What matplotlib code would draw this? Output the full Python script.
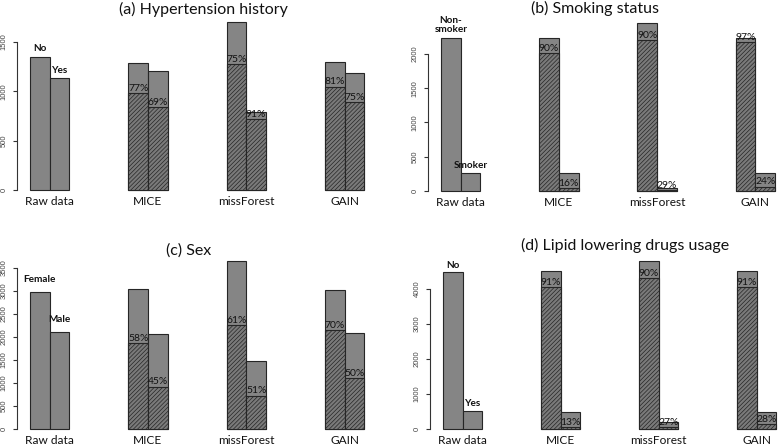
import matplotlib
matplotlib.use("Agg")
import matplotlib.pyplot as plt

plt.rcParams["font.family"] = ["Lato", "DejaVu Sans"]
plt.rcParams["hatch.linewidth"] = 0.5

# ---- data ----
methods = ["Raw data", "MICE", "missForest", "GAIN"]

hyp_levels = ["No", "Yes"]
hyp_total = [[1352, 1133], [1284, 1210], [1700, 788], [1301, 1190]]
hyp_correct = [[980, 838], [1274, 720], [1047, 889]]
hyp_pct = [[77, 69], [75, 91], [81, 75]]

smk_levels = ["Non-\nsmoker", "Smoker"]
smk_total = [[2238, 258], [2238, 268], [2448, 49], [2238, 268]]
smk_correct = [[2010, 43], [2204, 14], [2170, 64]]
smk_pct = [[90, 16], [90, 29], [97, 24]]

sex_levels = ["Female", "Male"]
sex_total = [[2980, 2112], [3032, 2062], [3646, 1476], [3016, 2076]]
sex_correct = [[1860, 919], [2257, 723], [2141, 1100]]
sex_pct = [[58, 45], [61, 51], [70, 50]]

lipid_levels = ["No", "Yes"]
lipid_total = [[4476, 514], [4524, 476], [4810, 190], [4524, 476]]
lipid_correct = [[4048, 62], [4305, 51], [4048, 133]]
lipid_pct = [[91, 13], [90, 27], [91, 28]]

W, H = 778, 447
FILL = "#858585"
EDGE = "#262626"

fig = plt.figure(figsize=(W / 100, H / 100), dpi=100)


def panel(axis_x, y0, ppu, unit_px, yticks, levels, total, correct, pct, lab_off):
    """axis_x / y0 in pixels from the top-left, ppu = pixels per count."""
    ymax = max(max(t) for t in total)
    lo, hi = -0.04 * ymax, 1.04 * ymax
    h_px = (hi - lo) * ppu
    bottom_px = y0 - lo * ppu
    w_px = 18.36 * unit_px
    ax = fig.add_axes([axis_x / W, 1 - bottom_px / H, w_px / W, h_px / H])
    ax.set_xlim(-0.68, 17.68)
    ax.set_ylim(lo, hi)
    ax.patch.set_alpha(0)

    for g, name in enumerate(methods):
        for j in range(2):
            x = g * 5 + j
            ax.bar(x, total[g][j], width=1, align="edge", color=FILL,
                   edgecolor=EDGE, lw=0.8)
            if g == 0:
                ax.annotate(levels[j], (x + 0.5, total[g][j]), xytext=(0, lab_off),
                            textcoords="offset points", ha="center", va="bottom",
                            fontsize=7.2, fontweight="bold", linespacing=1.0,
                            color="#111111")
            else:
                c = correct[g - 1][j]
                ax.bar(x, c, width=1, align="edge", facecolor="#7a7a7a",
                       edgecolor=EDGE, hatch="////////", lw=0.8)
                ax.annotate(f"{pct[g - 1][j]}%", (x + 0.5, c), xytext=(0, 0.2),
                            textcoords="offset points", ha="center", va="bottom",
                            fontsize=7.5, color="#111111")
        ax.annotate(name, (g * 5 + 1, 0), xytext=(0, -4.5),
                    textcoords="offset points", ha="center", va="top",
                    fontsize=8.6, color="#111111")

    for s in ["top", "right", "bottom"]:
        ax.spines[s].set_visible(False)
    ax.spines["left"].set_bounds(yticks[0], yticks[-1])
    ax.spines["left"].set_color("#333333")
    ax.spines["left"].set_linewidth(0.8)
    ax.set_xticks([])
    ax.set_yticks(yticks)
    ax.set_yticklabels([str(v) for v in yticks], rotation=90, va="center",
                       fontsize=5.5, color="#444444", family="Liberation Sans")
    ax.tick_params(axis="y", length=3, width=0.8, color="#333333", pad=3.5)
    return ax


panel(16.6, 190, 49.3 / 500, 19.67, [0, 500, 1000, 1500],
      hyp_levels, hyp_total, hyp_correct, hyp_pct, 2.5)
panel(427.6, 191, 34.25 / 500, 19.65, [0, 500, 1000, 1500, 2000],
      smk_levels, smk_total, smk_correct, smk_pct, 2.5)
panel(16.6, 429, 23.04 / 500, 19.67, [0, 500, 1000, 1500, 2000, 2500, 3000, 3500],
      sex_levels, sex_total, sex_correct, sex_pct, 5.5)
panel(429.6, 429, 35.0 / 1000, 19.6, [0, 1000, 2000, 3000, 4000],
      lipid_levels, lipid_total, lipid_correct, lipid_pct, 2.0)

titles = [("(a) Hypertension history", 203, 9),
          ("(b) Smoking status", 595, 8),
          ("(c) Sex", 189, 251),
          ("(d) Lipid lowering drugs usage", 625, 245)]
for t, x, y in titles:
    fig.text(x / W, 1 - y / H, t, ha="center", va="center", fontsize=11.5,
             color="#111111")

fig.savefig("out.png", dpi=100)
